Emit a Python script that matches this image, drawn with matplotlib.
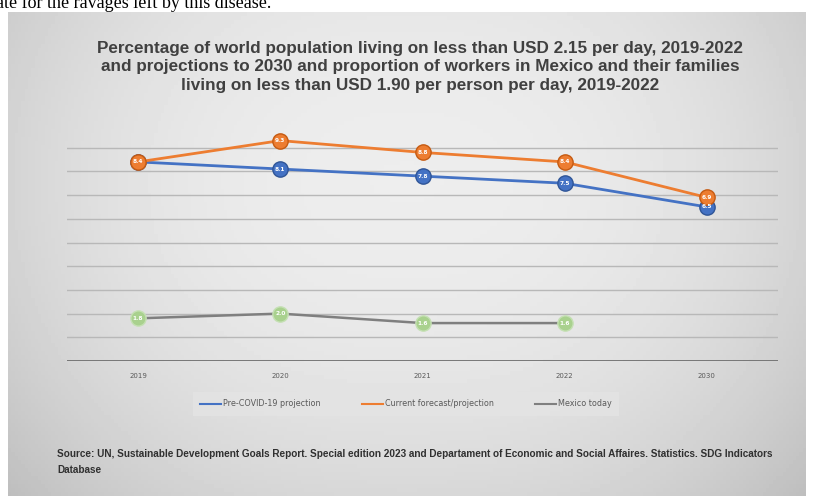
import matplotlib.pyplot as plt
import numpy as np

years = ["2019", "2020", "2021", "2022", "2030"]
pre_covid = [8.4, 8.1, 7.8, 7.5, 6.5]
current = [8.4, 9.3, 8.8, 8.4, 6.9]
mexico = [1.8, 2.0, 1.6, 1.6]

title = ("Percentage of world population living on less than USD 2.15 per day, 2019-2022\n"
         "and projections to 2030 and proportion of workers in Mexico and their families\n"
         "living on less than USD 1.90 per person per day, 2019-2022")
source = ("Source: UN, Sustainable Development Goals Report. Special edition 2023 and Departament of "
          "Economic and Social Affaires. Statistics. SDG Indicators\nDatabase")

W, H = 814, 500
fig = plt.figure(figsize=(W / 100, H / 100), dpi=100)

# background: page + gradient chart panel
bg = fig.add_axes([0, 0, 1, 1])
bg.set_xlim(0, W)
bg.set_ylim(H, 0)
bg.axis("off")
yy, xx = np.mgrid[-1:1:120j, -1:1:240j]
grad = 0.93 - 0.10 * (xx ** 2) ** 1.2 - 0.05 * (yy + 0.3) ** 2
bg.imshow(grad, cmap="gray", vmin=0, vmax=1, extent=[8, 806, 496, 12], aspect="auto")
bg.text(-4, 8, "ate for the ravages left by this disease.", fontsize=13,
        family="Liberation Serif", va="baseline", color="black")

bg.text(420, 67, title, ha="center", va="center", fontsize=12.3, fontweight="bold",
        family="Liberation Sans", color="#404040", linespacing=1.28)
bg.text(57, 462, source, ha="left", va="center", fontsize=7.2, fontweight="bold",
        family="Liberation Sans", color="#303030", linespacing=1.7)

# chart
ax = fig.add_axes([67 / W, 1 - 361 / H, (778 - 67) / W, (361 - 124) / H])
ax.set_facecolor("none")
x = np.arange(len(years))
ax.set_xlim(-0.5, len(years) - 0.5)
ax.set_ylim(0, 10)
for g in range(1, 10):
    ax.axhline(g, color="#b8b8b8", lw=1, zorder=0)
ax.axhline(0, color="#6f6f6f", lw=1.3, zorder=1)
for s in ax.spines.values():
    s.set_visible(False)
ax.set_yticks([])
ax.set_xticks(x)
ax.set_xticklabels(years, fontsize=5, color="#595959")
ax.tick_params(axis="x", length=0, pad=9)

ax.plot(x, pre_covid, color="#4472C4", lw=2, marker="o", ms=11,
        mfc="#4472C4", mec="#2f5597", label="Pre-COVID-19 projection", zorder=3)
ax.plot(x, current, color="#ED7D31", lw=2, marker="o", ms=11,
        mfc="#ED7D31", mec="#c55a11", label="Current forecast/projection", zorder=3)
ax.plot(x[:len(mexico)], mexico, color="#7f7f7f", lw=1.8, marker="o", ms=11,
        mfc="#A9D18E", mec="#C5E0B4", label="Mexico today", zorder=3)

for xi, v in zip(x, pre_covid):
    if xi > 0:
        ax.text(xi, v, f"{v:.1f}", ha="center", va="center", fontsize=4.2,
                color="white", fontweight="bold", zorder=5)
for xi, v in zip(x, current):
    ax.text(xi, v, f"{v:.1f}", ha="center", va="center", fontsize=4.2,
            color="white", fontweight="bold", zorder=5)
for xi, v in zip(x, mexico):
    ax.text(xi, v, f"{v:.1f}", ha="center", va="center", fontsize=4.2,
            color="white", fontweight="bold", zorder=5)

leg = fig.legend(loc="center", bbox_to_anchor=(406 / W, 1 - 404 / H), ncol=3,
                 fontsize=5.8, frameon=True, fancybox=False,
                 handlelength=2.6, handletextpad=0.2, columnspacing=5.2, borderpad=0.9)
leg.get_frame().set_facecolor("#e4e4e4")
leg.get_frame().set_edgecolor("none")
for t in leg.get_texts():
    t.set_color("#595959")
for h in leg.get_lines():
    h.set_marker("")
    h.set_linewidth(1.5)

fig.savefig("out.png", dpi=100)
